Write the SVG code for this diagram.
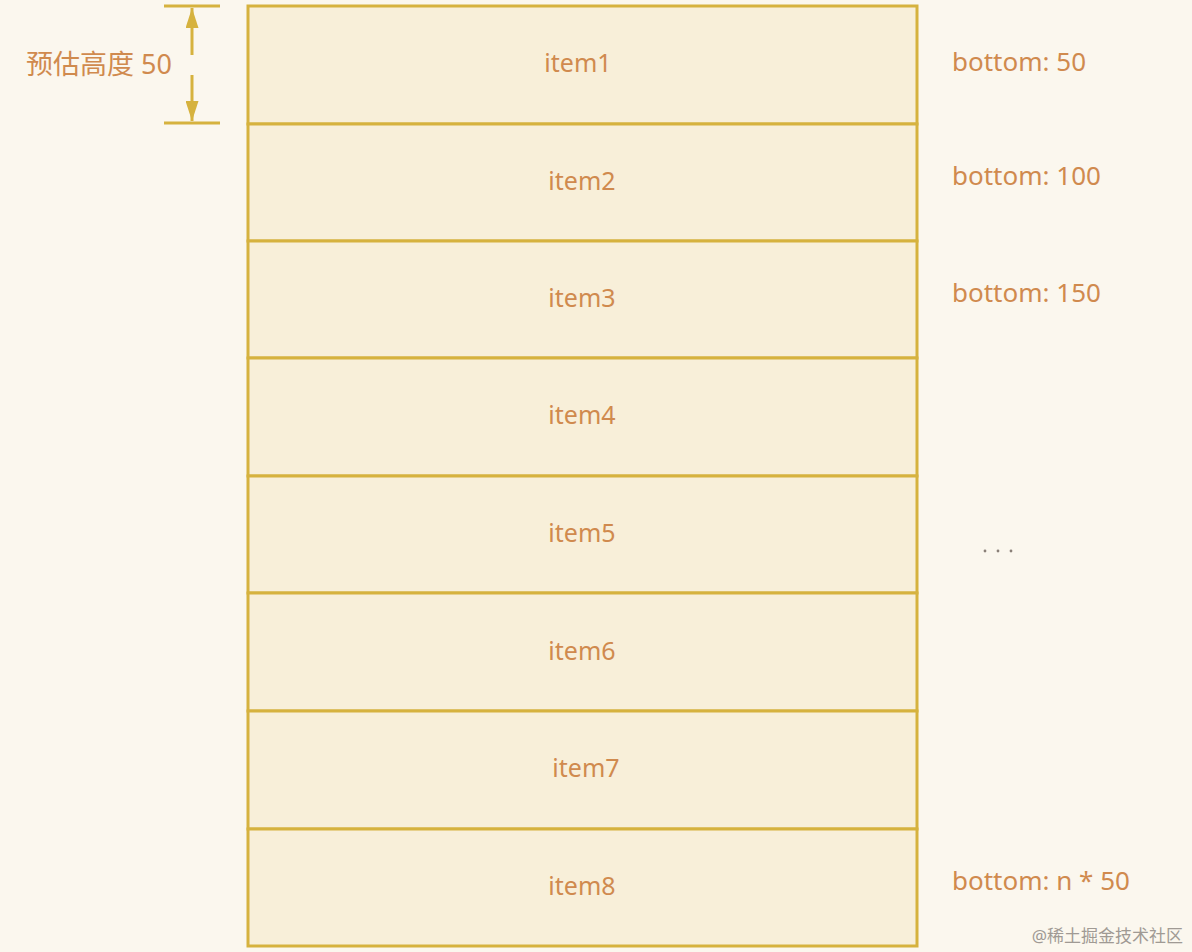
<svg xmlns="http://www.w3.org/2000/svg" width="1192" height="952" viewBox="0 0 1192 952">
<style>
.box{fill:#f8efd9;stroke:#d6b23e;stroke-width:3}
.t{font-family:"Noto Sans","Open Sans","Noto Sans CJK SC",sans-serif;fill:#d08a4e;font-size:25px}
.c{text-anchor:middle;dominant-baseline:central}
.b{font-size:26px;dominant-baseline:central}
.dim{stroke:#d6b23e;stroke-width:3;fill:none}
</style>
<defs>
<marker id="ah" viewBox="0 0 20 13" refX="20" refY="6.5" markerWidth="20" markerHeight="13" orient="auto-start-reverse" markerUnits="userSpaceOnUse"><path d="M0,0 L20,6.5 L0,13 z" fill="#d6b23e"/></marker>
</defs>
<rect width="1192" height="952" fill="#fbf7ee"/>
<g id="item1"><rect class="box" x="248" y="6" width="669" height="118"/><text class="t c" x="578" y="62">item1</text></g>
<g id="item2"><rect class="box" x="248" y="124" width="669" height="117"/><text class="t c" x="582" y="180">item2</text></g>
<g id="item3"><rect class="box" x="248" y="241" width="669" height="117"/><text class="t c" x="582" y="297">item3</text></g>
<g id="item4"><rect class="box" x="248" y="358" width="669" height="118"/><text class="t c" x="582" y="414">item4</text></g>
<g id="item5"><rect class="box" x="248" y="476" width="669" height="117"/><text class="t c" x="582" y="532">item5</text></g>
<g id="item6"><rect class="box" x="248" y="593" width="669" height="118"/><text class="t c" x="582" y="650">item6</text></g>
<g id="item7"><rect class="box" x="248" y="711" width="669" height="118"/><text class="t c" x="586" y="767">item7</text></g>
<g id="item8"><rect class="box" x="248" y="829" width="669" height="117"/><text class="t c" x="582" y="885">item8</text></g>
<g id="connectors">
<line class="dim" x1="164" y1="6" x2="220" y2="6"/>
<line class="dim" x1="164" y1="123" x2="220" y2="123"/>
<line class="dim" x1="192" y1="55" x2="192" y2="8" marker-end="url(#ah)"/>
<line class="dim" x1="192" y1="75" x2="192" y2="121" marker-end="url(#ah)"/>
</g>
<g id="labels">
<text class="t c" x="99" y="63" style="font-size:27px">预估高度 50</text>
<text class="t b" x="952" y="61">bottom: 50</text>
<text class="t b" x="952" y="175">bottom: 100</text>
<text class="t b" x="952" y="292">bottom: 150</text>
<text class="t b" x="952" y="880">bottom: n * 50</text>
<g fill="#8a8078"><circle cx="985" cy="551" r="1.4"/><circle cx="998" cy="551" r="1.4"/><circle cx="1011" cy="551" r="1.4"/></g>
<text x="1183" y="942" text-anchor="end" style="font-family:'Noto Sans','Noto Sans CJK SC',sans-serif;font-size:17px;fill:#a09a94">@稀土掘金技术社区</text>
</g>
</svg>
